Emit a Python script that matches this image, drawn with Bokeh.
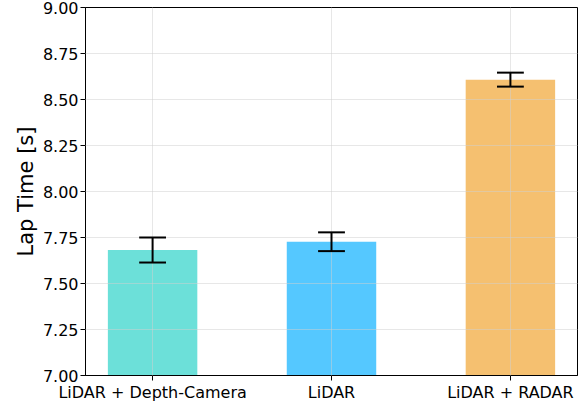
from bokeh.plotting import figure
from bokeh.models import Range1d, FixedTicker, ColumnDataSource
from bokeh.embed import file_html
from bokeh.resources import INLINE

categories = ["LiDAR + Depth-Camera", "LiDAR", "LiDAR + RADAR"]
lap_means = [7.682, 7.727, 8.608]
lap_stds = [0.068, 0.051, 0.038]
bar_colors = ["#6ce0d9", "#55c8ff", "#f5c070"]
y_ticks = [7.00, 7.25, 7.50, 7.75, 8.00, 8.25, 8.50, 8.75, 9.00]

xs = list(range(len(categories)))
cap = 0.075
src = ColumnDataSource(dict(
    x=xs, top=lap_means, color=bar_colors,
    lo=[m - s for m, s in zip(lap_means, lap_stds)],
    hi=[m + s for m, s in zip(lap_means, lap_stds)],
    xl=[x - cap for x in xs], xr=[x + cap for x in xs],
))

p = figure(width=580, height=404, output_backend="svg", toolbar_location=None,
           x_range=Range1d(-0.375, 2.375), y_range=Range1d(7.0, 9.0),
           min_border_left=85, min_border_right=3, min_border_top=7, min_border_bottom=0)

p.vbar(x="x", top="top", bottom=7.0, width=0.5, color="color", source=src, line_color=None)
for r in [
    p.segment(x0="x", x1="x", y0="lo", y1="hi", source=src, line_color="black", line_width=2),
    p.segment(x0="xl", x1="xr", y0="lo", y1="lo", source=src, line_color="black", line_width=2),
    p.segment(x0="xl", x1="xr", y0="hi", y1="hi", source=src, line_color="black", line_width=2),
]:
    r.level = "annotation"

p.xaxis.ticker = FixedTicker(ticks=xs)
p.xaxis.major_label_overrides = {i: c for i, c in enumerate(categories)}
p.yaxis.ticker = FixedTicker(ticks=y_ticks)
p.yaxis.major_label_overrides = {t: f"{t:.2f}" for t in y_ticks}

for ax in (p.xaxis, p.yaxis):
    ax.minor_tick_line_color = None
    ax.major_tick_out = 5
    ax.major_tick_in = 0
    ax.axis_line_color = "black"
    ax.major_tick_line_color = "black"
    ax.major_label_text_font = "DejaVu Sans"
    ax.major_label_text_font_size = "16px"
    ax.major_label_text_color = "black"
    ax.major_label_standoff = 2

p.yaxis.axis_label = "Lap Time [s]"
p.yaxis.axis_label_text_font = "DejaVu Sans"
p.yaxis.axis_label_text_font_size = "21px"
p.yaxis.axis_label_text_font_style = "normal"
p.yaxis.axis_label_text_color = "black"
p.yaxis.axis_label_standoff = 2

for g in (p.xgrid, p.ygrid):
    g.grid_line_color = "#d0d0d0"
    g.grid_line_alpha = 0.5
    g.level = "guide"

p.outline_line_color = "black"
p.outline_line_alpha = 1.0
p.background_fill_color = "white"
p.border_fill_color = "white"

open("out.html", "w").write(file_html(p, INLINE))
